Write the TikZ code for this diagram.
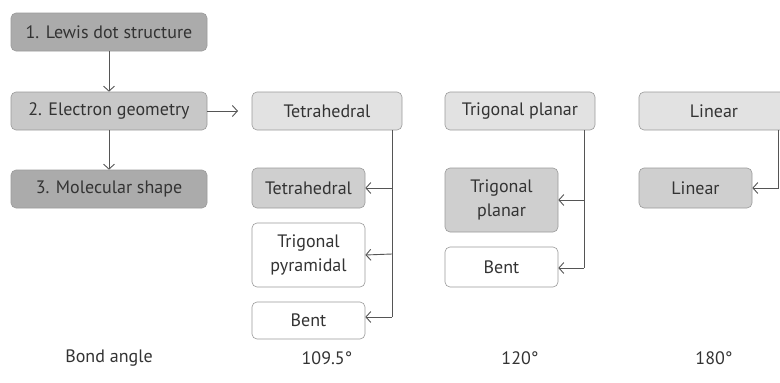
\documentclass[tikz,border=0pt]{standalone}
\usepackage{fontspec}
\setmainfont{PT Sans}
\usetikzlibrary{arrows.meta}
\definecolor{inkgray}{HTML}{333333}
\definecolor{stepdark}{HTML}{ABABAB}
\definecolor{stepmid}{HTML}{C8C8C8}
\definecolor{geolight}{HTML}{E2E2E2}
\definecolor{shapemid}{HTML}{CFCFCF}
\definecolor{edgegray}{HTML}{9A9A9A}
\definecolor{linegray}{HTML}{555555}
\begin{document}
\begin{tikzpicture}[x=1pt,y=-1pt,
  font=\fontsize{18}{24}\selectfont, text=inkgray,
  box/.style={rectangle, rounded corners=5pt, draw=edgegray, line width=0.6pt,
    inner sep=0pt, align=center},
  stepbox/.style={box, minimum width=196pt, minimum height=38pt},
  geobox/.style={box, fill=geolight, minimum width=150pt, minimum height=38pt},
  shapebox/.style={box, minimum width=113pt},
  arr/.style={draw=linegray, line width=0.9pt,
    -{Straight Barb[length=5pt,width=11pt,line width=0.9pt]}},
  conn/.style={draw=linegray, line width=0.9pt}]
\clip (0,0) rectangle (780,383);
\useasboundingbox (0,0) rectangle (780,383);

% procedure steps
\node[stepbox, fill=stepdark] (s1) at (109,32) {1. Lewis dot structure};
\node[stepbox, fill=stepmid]  (s2) at (109,111) {2. Electron geometry};
\node[stepbox, fill=stepdark] (s3) at (109,189) {3. Molecular shape};
\coordinate (s2r) at (238,111);
\draw[arr] (s1) -- (s2);
\draw[arr] (s2) -- (s3);
\draw[arr] (s2.east) -- (s2r);

% electron geometries
\node[geobox] (gT) at (327,111) {Tetrahedral};
\node[geobox] (gP) at (520,111) {Trigonal planar};
\node[geobox] (gL) at (714,111) {Linear};

% molecular shapes
\node[shapebox, fill=shapemid, minimum height=40pt] (mT1) at (308.5,188) {Tetrahedral};
\node[shapebox, fill=white, minimum height=64pt] (mT2) at (308.5,255) {Trigonal\\pyramidal};
\node[shapebox, fill=white, minimum height=37pt] (mT3) at (308.5,320.5) {Bent};
\node[shapebox, fill=shapemid, minimum height=64pt] (mP1) at (501.5,200) {Trigonal\\planar};
\node[shapebox, fill=white, minimum height=40pt] (mP2) at (501.5,267) {Bent};
\node[shapebox, fill=shapemid, minimum height=40pt] (mL1) at (695.5,188) {Linear};

% branch connectors
\coordinate (bT) at (392,130);
\coordinate (bT3) at (392,317);
\coordinate (bP) at (584,130);
\coordinate (bP2) at (584,268);
\coordinate (bL) at (778,130);
\draw[conn] (bT) -- (bT3);
\draw[arr] (bT |- mT1.east) -- (mT1.east);
\draw[arr] (392,254) -- (mT2.east);
\draw[arr] (bT3) -- (bT3 -| mT3.east);
\draw[conn] (bP) -- (bP2);
\draw[arr] (bP |- mP1.east) -- (mP1.east);
\draw[arr] (bP2) -- (bP2 -| mP2.east);
\draw[arr] (bL) |- (mL1.east);

% bond angles
\node (ba) at (109,358) {Bond angle};
\node (aT) at (327,358) {109.5°};
\node (aP) at (520,358) {120°};
\node (aL) at (714,358) {180°};
\end{tikzpicture}
\end{document}
